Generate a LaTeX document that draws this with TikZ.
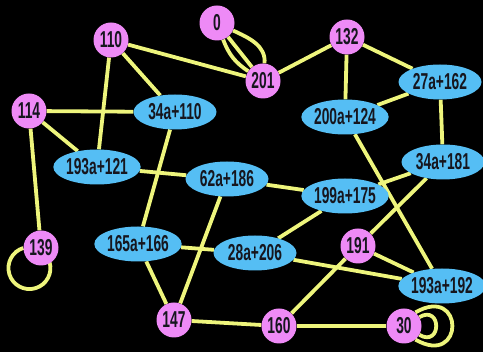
\documentclass[tikz,border=0pt]{standalone}
\usepackage{fontspec}
\setmainfont{Liberation Sans}[FakeStretch=0.6]
\usetikzlibrary{shapes.geometric,backgrounds}

\definecolor{vpink}{HTML}{EE8AF6}
\definecolor{vblue}{HTML}{55BEF4}
\definecolor{eyellow}{HTML}{EEF57C}
\definecolor{vtext}{HTML}{16161E}

\tikzset{
  lbl/.style={text=vtext, font=\bfseries\fontsize{23}{23}\selectfont},
  vert/.style={lbl, circle, fill=vpink, minimum size=35pt, inner sep=0pt},
  pair/.style={lbl, ellipse, fill=vblue, minimum width=83pt, minimum height=35pt, inner sep=0pt},
  link/.style={draw=eyellow, line width=3.8pt},
}

\begin{document}
\begin{tikzpicture}[x=1pt,y=1pt]
  \useasboundingbox (0,0) rectangle (483,-352);

  % plain vertices
  \node[vert] (n0)   at (217,-23)  {0};
  \node[vert] (n110) at (111,-40)  {110};
  \node[vert] (n114) at (29,-111)  {114};
  \node[vert] (n201) at (263,-81)  {201};
  \node[vert] (n132) at (347,-37)  {132};
  \node[vert] (n139) at (41,-248)  {139};
  \node[vert] (n147) at (174,-320) {147};
  \node[vert] (n191) at (358,-246) {191};
  \node[vert] (n160) at (279,-326) {160};
  \node[vert] (n30)  at (404,-326) {30};

  % linear vertices
  \node[pair] (e34a110)  at (175,-112) {34a+110};
  \node[pair] (e193a121) at (97,-167)  {193a+121};
  \node[pair] (e62a186)  at (227,-179) {62a+186};
  \node[pair] (e200a124) at (345,-117) {200a+124};
  \node[pair] (e27a162)  at (440,-82)  {27a+162};
  \node[pair] (e34a181)  at (443,-162) {34a+181};
  \node[pair] (e199a175) at (345,-196) {199a+175};
  \node[pair] (e165a166) at (138,-244) {165a+166};
  \node[pair] (e28a206)  at (255,-253) {28a+206};
  \node[pair] (e193a192) at (442,-286) {193a+192};

  \begin{pgfonlayer}{background}
    \fill[black] (0,0) rectangle (483,-352);
    \begin{scope}[link]
      \draw (n0) -- (n201);
      \draw (n0) to[bend right=18] (n201);
      \draw (n0) to[out=-25,in=85] (n201);
      \draw (n110) -- (n201);
      \draw (n110) -- (e34a110);
      \draw (n110) -- (e193a121);
      \draw (n114) -- (e34a110);
      \draw (n114) -- (e193a121);
      \draw (n114) -- (n139);
      \draw (n139.180) arc[start angle=107, end angle=377, radius=21];
      \draw (e34a110) -- (e165a166);
      \draw (e193a121) -- (e62a186);
      \draw (e62a186) -- (n147);
      \draw (e62a186) -- (e199a175);
      \draw (e165a166) -- (n147);
      \draw (e165a166) -- (e28a206);
      \draw (e28a206) -- (e199a175);
      \draw (e28a206) -- (e193a192);
      \draw (e199a175) -- (e34a181);
      \draw (e200a124) -- (e193a192);
      \draw (n132) -- (n201);
      \draw (n132) -- (e200a124);
      \draw (n132) -- (e27a162);
      \draw (e200a124) -- (e27a162);
      \draw (e27a162) -- (e34a181);
      \draw (e34a181) -- (n191);
      \draw (n191) -- (n160);
      \draw (n191) -- (e193a192);
      \draw (n147) -- (n160);
      \draw (n160) -- (n30);
      \draw (n30.50) .. controls +(30:57) and +(-30:57) .. (n30.-50);
      \draw (n30.30) .. controls +(30:26) and +(-30:26) .. (n30.-30);
    \end{scope}
  \end{pgfonlayer}
\end{tikzpicture}
\end{document}
